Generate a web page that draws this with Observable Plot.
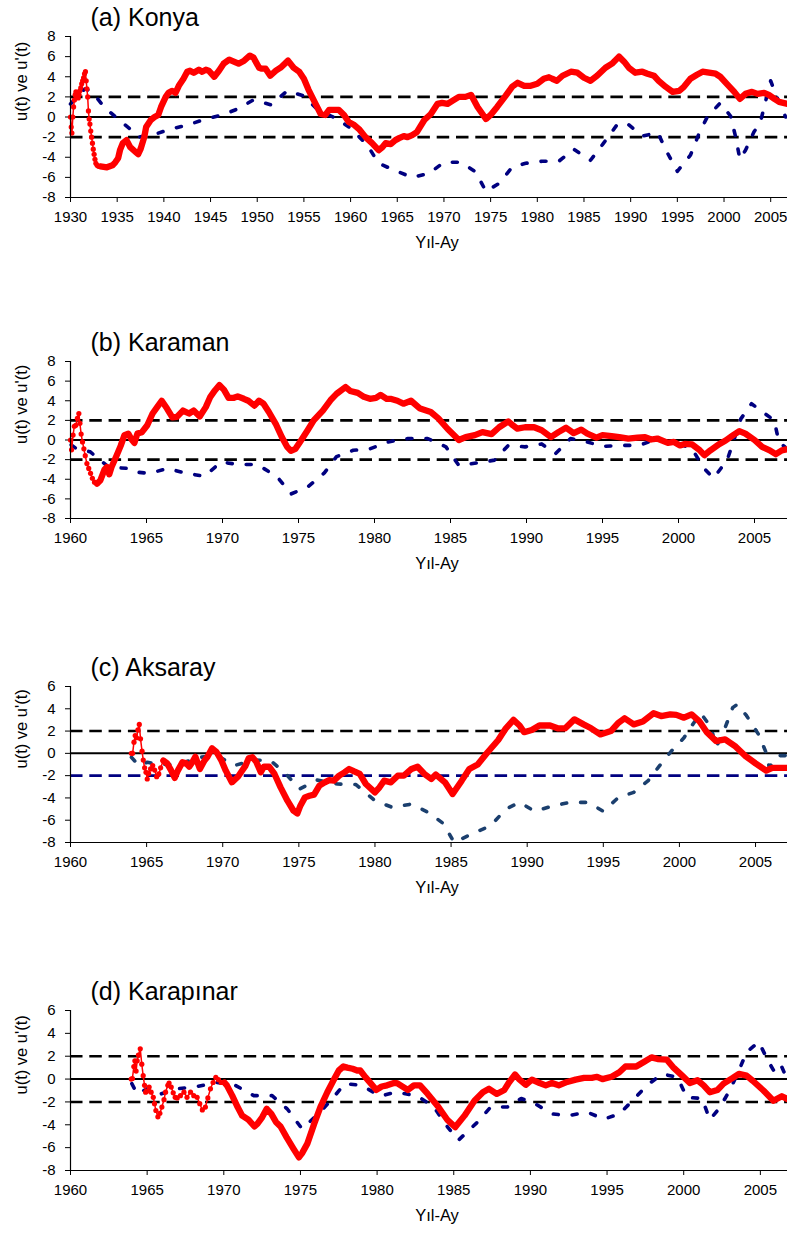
<!DOCTYPE html>
<html>
<head>
<meta charset="utf-8">
<script src="https://cdn.jsdelivr.net/npm/d3@7"></script>
<script src="https://cdn.jsdelivr.net/npm/@observablehq/plot@0.6"></script>
<style>
  html, body { margin: 0; padding: 0; background: #fff; }
  #root { position: relative; width: 787px; height: 1236px; overflow: hidden; }
  #root svg { position: absolute; left: 0; }
</style>
</head>
<body>
<div id="root"></div>
<script>
// ---------- data: [year, value] ----------
const konyaU = [[1930.0,0],[1930.08,-1.0],[1930.15,-1.6],[1930.25,0.0],[1930.33,1.0],[1930.42,1.7],[1930.5,2.2],[1930.58,2.5],[1930.67,2.0],[1930.75,2.4],[1930.83,1.9],[1930.92,2.2],[1931.0,2.6],[1931.1,2.9],[1931.2,3.3],[1931.3,3.6],[1931.4,3.9],[1931.5,4.3],[1931.6,4.5],[1931.68,3.6],[1931.76,2.8],[1931.84,2.0],[1931.92,0.6],[1932.0,-0.2],[1932.08,-0.7],[1932.17,-1.4],[1932.26,-2.0],[1932.35,-2.6],[1932.44,-3.2],[1932.53,-3.7],[1932.62,-4.2],[1932.72,-4.6],[1932.85,-4.8],[1933.0,-4.9],[1933.2,-4.9],
[1933.9,-5.0],[1934.5,-4.8],[1934.8,-4.5],[1935.1,-4.1],[1935.3,-3.3],[1935.6,-2.6],[1936.0,-2.3],[1936.4,-3.0],[1937.0,-3.5],[1937.25,-3.7],[1937.5,-3.2],[1937.9,-2.0],[1938.1,-1.0],[1938.6,-0.3],[1939.0,0.0],[1939.4,0.2],[1939.7,1.0],[1940.2,2.0],[1940.5,2.4],[1940.9,2.6],[1941.25,2.4],[1941.6,3.1],[1942.1,3.8],[1942.5,4.5],[1942.8,4.6],[1943.2,4.4],[1943.75,4.7],[1944.1,4.5],[1944.5,4.7],[1944.8,4.6],[1945.4,4.0],[1945.9,4.6],[1946.4,5.3],[1947.0,5.7],[1947.5,5.5],[1948.0,5.3],[1948.6,5.6],[1949.2,6.1],[1949.6,5.9],[1950.2,4.9],[1950.5,4.8],[1950.9,4.8],[1951.4,4.1],[1952.0,4.6],[1952.5,4.9],[1953.3,5.6],[1953.9,4.9],[1954.5,4.5],[1955.0,3.8],[1955.5,2.7],[1956.25,1.3],[1956.8,0.3],[1957.3,0.2],[1957.7,0.7],[1958.2,0.7],[1958.75,0.7],[1959.3,0.2],[1959.8,-0.5],[1960.4,-0.8],[1960.9,-1.2],[1961.6,-2.0],[1962.3,-2.6],[1963.0,-3.3],[1963.4,-3.0],[1963.75,-2.6],[1964.3,-2.7],[1964.8,-2.3],[1965.2,-2.1],[1965.7,-1.9],[1966.1,-2.0],[1966.6,-1.8],[1967.1,-1.5],[1967.9,-0.3],[1968.6,0.3],[1969.3,1.3],[1969.8,1.4],[1970.4,1.3],[1970.9,1.6],[1971.6,2.0],[1972.3,2.0],[1972.9,2.2],[1973.6,1.0],[1974.5,-0.2],[1975.0,0.2],[1975.7,1.0],[1976.6,2.1],[1977.3,3.0],[1977.9,3.4],[1978.6,3.1],[1979.3,3.1],[1980.0,3.3],[1980.7,3.8],[1981.25,3.95],[1981.6,3.8],[1982.1,3.6],[1982.7,4.1],[1983.6,4.5],[1984.3,4.4],[1985.0,3.9],[1985.7,3.6],[1986.4,4.1],[1987.3,4.9],[1988.0,5.3],[1988.75,6.0],[1989.3,5.5],[1989.8,4.9],[1990.5,4.4],[1991.25,4.5],[1991.8,4.3],[1992.5,4.1],[1993.0,3.6],[1993.75,3.0],[1994.5,2.5],[1995.2,2.6],[1995.7,3.0],[1996.4,3.8],[1997.1,4.2],[1997.7,4.5],[1998.4,4.4],[1999.1,4.3],[1999.6,4.0],[2000.3,3.3],[2001.1,2.5],[2001.7,1.8],[2002.3,2.3],[2003.0,2.5],[2003.6,2.3],[2004.3,2.4],[2004.8,2.2],[2005.4,1.8],[2005.9,1.5],[2006.8,1.3]];
const konyaUp = [[1930.0,1.3],[1930.5,1.8],[1931.0,2.4],[1931.6,2.8],[1932.3,2.5],[1933.6,1.0],[1935.2,-0.3],[1936.8,-1.5],[1937.3,-2.0],[1938.75,-1.7],[1939.1,-1.7],[1940.7,-1.2],[1942.5,-0.8],[1944.5,-0.2],[1946.25,0.2],[1947.9,0.8],[1949.6,1.7],[1951.5,1.2],[1953.2,2.6],[1955.0,2.1],[1956.6,0.6],[1958.4,-0.1],[1960.0,-1.1],[1961.8,-2.8],[1963.0,-4.6],[1964.7,-5.3],[1966.6,-6.0],[1968.4,-5.6],[1970.0,-4.5],[1971.8,-4.5],[1973.4,-5.45],[1974.5,-7.4],[1975.9,-6.6],[1977.3,-5.0],[1978.75,-4.6],[1980.5,-4.4],[1982.3,-4.4],[1983.9,-3.2],[1985.7,-4.3],[1987.1,-2.6],[1988.6,-0.7],[1989.7,-0.7],[1991.25,-1.9],[1992.9,-1.55],[1993.9,-3.5],[1995.0,-5.4],[1996.4,-3.8],[1997.3,-1.7],[1998.2,0.0],[1999.6,1.4],[2000.7,0.1],[2001.25,-2.0],[2001.7,-4.2],[2002.3,-3.3],[2003.2,-1.5],[2003.9,-0.5],[2005.0,3.6],[2005.6,2.1],[2006.6,0.0]];

const karamanU = [[1960.0,0.0],[1960.07,-1.0],[1960.17,0.5],[1960.25,1.4],[1960.35,1.5],[1960.45,2.2],[1960.55,2.7],[1960.62,1.7],[1960.7,0.6],[1960.79,-0.2],[1960.88,-0.9],[1960.97,-1.6],[1961.08,-2.4],[1961.2,-2.9],[1961.32,-3.4],[1961.44,-3.9],[1961.58,-4.3],[1961.75,-4.45],
[1961.97,-4.1],[1962.24,-3.0],[1962.4,-2.75],[1962.55,-3.5],[1962.7,-2.75],[1963.0,-1.7],[1963.3,-0.6],[1963.55,0.5],[1963.8,0.65],[1964.0,0.1],[1964.2,-0.3],[1964.4,0.65],[1964.7,0.8],[1965.05,1.5],[1965.4,2.7],[1965.7,3.35],[1966.0,4.0],[1966.35,3.2],[1966.7,2.3],[1967.0,2.35],[1967.4,3.0],[1967.8,2.7],[1968.1,3.0],[1968.5,2.4],[1968.9,3.35],[1969.2,4.4],[1969.5,5.05],[1969.8,5.6],[1970.1,5.1],[1970.4,4.3],[1970.75,4.3],[1971.0,4.45],[1971.4,4.2],[1971.7,4.0],[1972.1,3.5],[1972.4,4.0],[1972.7,3.7],[1973.05,2.85],[1973.5,1.65],[1973.9,0.3],[1974.25,-0.7],[1974.5,-1.1],[1974.8,-0.9],[1975.1,-0.2],[1975.6,1.0],[1976.0,2.0],[1976.6,3.0],[1977.1,4.05],[1977.5,4.7],[1978.1,5.4],[1978.4,5.0],[1978.9,4.8],[1979.3,4.4],[1979.7,4.2],[1980.1,4.3],[1980.4,4.6],[1980.8,4.2],[1981.05,4.2],[1981.5,4.0],[1981.9,3.7],[1982.4,4.0],[1983.0,3.2],[1983.7,2.85],[1984.2,2.2],[1984.8,1.15],[1985.55,0.0],[1986.0,0.3],[1986.6,0.5],[1987.1,0.8],[1987.7,0.6],[1988.2,1.3],[1988.8,1.9],[1989.1,1.5],[1989.4,1.15],[1989.9,1.3],[1990.5,1.3],[1991.0,1.0],[1991.6,0.3],[1992.1,0.8],[1992.6,1.25],[1993.1,0.7],[1993.6,1.05],[1994.0,0.65],[1994.6,0.25],[1995.0,0.5],[1995.6,0.4],[1996.1,0.3],[1996.7,0.15],[1997.3,0.25],[1997.8,0.3],[1998.2,0.05],[1998.6,0.15],[1999.3,-0.3],[1999.7,-0.2],[2000.1,-0.55],[2000.4,-0.4],[2000.9,-0.45],[2001.4,-1.05],[2001.7,-1.55],[2002.1,-1.05],[2002.7,-0.4],[2003.1,-0.05],[2003.6,0.5],[2004.0,0.9],[2004.4,0.65],[2005.0,0.0],[2005.5,-0.7],[2006.0,-1.05],[2006.4,-1.45],[2006.8,-1.05],[2007.1,-0.95]];
const karamanUp = [[1960.05,-0.5],[1960.4,-0.9],[1961.3,-1.2],[1961.6,-1.6],[1962.5,-2.75],[1963.8,-2.9],[1964.2,-3.25],[1965.2,-3.4],[1966.4,-2.9],[1967.5,-3.35],[1968.8,-3.7],[1969.9,-2.25],[1971.1,-2.5],[1972.3,-2.5],[1973.6,-3.75],[1974.5,-5.5],[1975.6,-4.8],[1976.7,-3.35],[1977.5,-1.7],[1978.6,-1.05],[1979.7,-0.9],[1980.9,-0.2],[1982.2,0.15],[1983.5,0.15],[1984.7,-0.7],[1985.55,-2.6],[1986.7,-2.35],[1987.9,-2.05],[1988.8,-0.55],[1989.9,-0.7],[1991.0,-0.4],[1991.9,-1.4],[1992.9,0.15],[1994.0,-0.2],[1995.0,-0.65],[1996.2,-0.55],[1997.4,-0.55],[1998.4,0.0],[2000.0,-0.35],[2000.9,-0.9],[2001.6,-2.75],[2002.3,-3.9],[2003.2,-2.05],[2003.7,0.25],[2004.1,2.15],[2004.8,3.7],[2005.4,3.0],[2006.3,2.0],[2006.6,-0.2],[2007.0,-0.7]];

const aksarayU = [[1964.0,0.0],[1964.08,0.0],[1964.17,1.0],[1964.25,1.6],[1964.34,1.4],[1964.43,2.1],[1964.52,2.6],[1964.6,1.3],[1964.7,0.2],[1964.78,-0.6],[1964.87,-1.3],[1964.96,-1.7],[1965.04,-2.3],[1965.13,-1.8],[1965.26,-1.4],[1965.4,-1.1],[1965.53,-1.5],[1965.66,-2.1],[1965.8,-1.85],[1965.92,-1.3],[1966.1,-0.65],
[1966.35,-0.9],[1966.6,-1.5],[1966.85,-2.2],[1967.05,-1.55],[1967.35,-0.8],[1967.6,-0.9],[1967.8,-1.2],[1968.0,-0.8],[1968.2,-0.3],[1968.5,-1.4],[1968.8,-0.65],[1969.0,-0.3],[1969.3,0.45],[1969.6,0.1],[1969.9,-0.6],[1970.2,-1.55],[1970.6,-2.6],[1971.0,-2.1],[1971.2,-1.7],[1971.5,-1.1],[1971.7,-0.45],[1971.95,-0.35],[1972.2,-0.75],[1972.5,-1.7],[1972.7,-1.2],[1973.05,-1.2],[1973.4,-1.85],[1973.8,-3.05],[1974.25,-4.25],[1974.65,-5.15],[1974.9,-5.4],[1975.1,-4.7],[1975.4,-3.95],[1975.7,-3.8],[1976.0,-3.7],[1976.35,-2.9],[1976.7,-2.6],[1977.0,-2.4],[1977.3,-2.45],[1977.65,-2.0],[1978.0,-1.7],[1978.3,-1.4],[1978.6,-1.6],[1979.0,-1.85],[1979.4,-2.75],[1980.0,-3.5],[1980.3,-3.05],[1980.6,-2.45],[1981.05,-2.6],[1981.5,-2.0],[1981.9,-2.0],[1982.4,-1.4],[1982.8,-1.2],[1983.25,-1.85],[1983.7,-2.3],[1984.0,-1.9],[1984.6,-2.6],[1985.1,-3.65],[1985.7,-2.45],[1986.2,-1.4],[1986.75,-1.0],[1987.4,0.1],[1988.1,1.2],[1988.6,2.25],[1989.1,3.0],[1989.5,2.5],[1989.8,1.9],[1990.3,2.1],[1990.8,2.5],[1991.5,2.5],[1992.0,2.25],[1992.5,2.25],[1993.1,3.05],[1993.7,2.6],[1994.2,2.25],[1994.8,1.7],[1995.5,2.0],[1996.0,2.75],[1996.4,3.15],[1997.0,2.6],[1997.6,2.85],[1998.3,3.6],[1998.8,3.35],[1999.4,3.5],[1999.8,3.45],[2000.3,3.2],[2000.8,3.5],[2001.3,2.9],[2001.8,1.9],[2002.4,1.1],[2003.0,1.25],[2003.7,0.6],[2004.3,-0.2],[2005.0,-0.9],[2005.7,-1.55],[2006.1,-1.3],[2007.1,-1.3]];
const aksarayUp = [[1964.0,-0.35],[1964.5,-1.1],[1965.05,-0.8],[1965.7,-1.0],[1967.0,-1.0],[1968.55,-0.35],[1969.65,-0.2],[1970.75,-1.1],[1972.05,-0.6],[1973.15,-0.65],[1974.15,-1.85],[1975.05,-3.2],[1976.2,-2.4],[1977.55,-2.75],[1978.75,-2.8],[1980.0,-4.25],[1981.15,-4.85],[1982.4,-4.55],[1983.5,-5.3],[1984.5,-6.3],[1985.2,-8.0],[1986.4,-7.2],[1987.6,-6.5],[1988.6,-5.0],[1989.5,-4.4],[1990.5,-5.2],[1991.6,-4.75],[1992.8,-4.4],[1994.0,-4.4],[1995.0,-5.2],[1996.0,-3.95],[1997.0,-3.5],[1997.95,-2.45],[1998.7,-1.1],[1999.5,0.25],[2000.3,1.4],[2000.8,2.45],[2001.4,3.6],[2002.1,2.3],[2002.4,0.5],[2003.0,2.3],[2003.5,4.1],[2003.8,4.4],[2004.4,3.4],[2005.2,1.7],[2005.7,0.05],[2005.9,-1.25],[2006.5,-0.2],[2007.0,-0.2]];

const karapinarU = [[1963.96,0.0],[1964.04,0.05],[1964.13,1.1],[1964.2,1.6],[1964.28,0.7],[1964.35,1.6],[1964.43,2.1],[1964.55,2.65],[1964.65,1.3],[1964.74,0.3],[1964.83,-0.55],[1964.9,-1.15],[1965.0,-1.05],[1965.13,-0.7],[1965.26,-1.15],[1965.4,-1.6],[1965.48,-2.15],[1965.57,-2.75],[1965.7,-3.3],[1965.83,-3.0],[1965.96,-2.45],[1966.1,-1.8],[1966.2,-1.15],[1966.35,-0.55],[1966.43,-0.35],[1966.57,-0.7],[1966.7,-1.2],[1966.83,-1.6],[1966.96,-1.65],[1967.17,-1.45],[1967.4,-1.15],[1967.6,-1.6],[1967.83,-1.15],[1968.04,-1.45],[1968.26,-1.6],[1968.43,-2.15],[1968.6,-2.7],[1968.8,-2.45],[1968.96,-1.65],[1969.13,-0.85],[1969.3,-0.3],[1969.48,0.15],[1969.65,-0.05],[1969.83,-0.3],[1970.04,-0.3],
[1970.2,-0.55],[1970.55,-1.45],[1970.9,-2.45],[1971.2,-3.2],[1971.6,-3.55],[1972.0,-4.15],[1972.2,-3.9],[1972.5,-3.35],[1972.8,-2.6],[1973.1,-3.05],[1973.4,-3.75],[1973.7,-4.15],[1974.1,-5.1],[1974.55,-6.1],[1974.9,-6.85],[1975.1,-6.5],[1975.45,-5.65],[1975.9,-3.9],[1976.3,-2.45],[1976.75,-1.15],[1977.2,0.0],[1977.5,0.75],[1977.8,1.1],[1978.05,1.0],[1978.4,0.9],[1978.7,0.75],[1978.9,0.75],[1979.25,0.15],[1979.6,-0.4],[1979.95,-0.95],[1980.3,-0.65],[1980.65,-0.55],[1981.1,-0.35],[1981.3,-0.35],[1982.0,-0.95],[1982.4,-0.55],[1982.8,-0.55],[1983.3,-1.3],[1984.0,-2.45],[1984.6,-3.6],[1985.1,-4.2],[1985.7,-3.2],[1986.35,-1.9],[1986.9,-1.15],[1987.3,-0.85],[1987.8,-1.3],[1988.3,-0.95],[1988.6,-0.3],[1989.0,0.4],[1989.25,0.0],[1989.7,-0.5],[1990.1,-0.05],[1990.6,-0.35],[1991.0,-0.55],[1991.4,-0.35],[1991.85,-0.55],[1992.4,-0.25],[1992.95,-0.05],[1993.5,0.1],[1994.0,0.1],[1994.35,0.2],[1994.7,0.0],[1995.3,0.2],[1995.8,0.6],[1996.2,1.1],[1996.9,1.1],[1997.4,1.5],[1997.9,1.9],[1998.3,1.75],[1998.9,1.7],[1999.3,1.05],[1999.9,0.3],[2000.4,-0.35],[2000.9,-0.1],[2001.3,-0.55],[2001.7,-1.15],[2002.2,-0.95],[2002.6,-0.4],[2003.2,0.1],[2003.6,0.45],[2004.1,0.3],[2004.5,-0.15],[2005.2,-1.0],[2005.85,-1.9],[2006.4,-1.5],[2006.77,-1.75]];
const karapinarUp = [[1964.0,-0.4],[1964.35,-1.3],[1965.0,-0.85],[1965.9,-1.3],[1966.96,-0.85],[1968.26,-0.65],[1969.56,-0.3],[1970.76,-0.55],[1971.96,-1.45],[1973.15,-1.45],[1974.13,-2.6],[1975.1,-4.35],[1976.2,-3.0],[1976.96,-1.9],[1977.9,-0.4],[1979.0,-0.55],[1980.2,-1.5],[1981.2,-1.15],[1982.6,-1.45],[1983.7,-2.45],[1984.6,-4.2],[1985.3,-5.35],[1986.6,-3.7],[1987.4,-2.45],[1988.5,-2.45],[1989.4,-1.7],[1990.3,-2.15],[1991.4,-3.05],[1992.5,-3.2],[1993.7,-2.9],[1994.8,-3.5],[1995.8,-3.05],[1996.65,-1.9],[1997.6,-0.55],[1998.6,0.45],[1999.6,0.15],[2000.2,-1.6],[2001.2,-1.7],[2001.7,-3.55],[2002.3,-2.6],[2003.0,-1.0],[2003.6,0.75],[2004.1,2.35],[2004.9,3.25],[2005.5,1.6],[2006.0,0.45],[2006.4,1.05],[2006.7,0.15]];

const titles = ["(a) Konya", "(b) Karaman", "(c) Aksaray", "(d) Karapınar"];
const yLabel = "u(t) ve u'(t)";
const xLabel = "Yıl-Ay";
const xTicksA = [1930,1935,1940,1945,1950,1955,1960,1965,1970,1975,1980,1985,1990,1995,2000,2005];
const xTicksB = [1960,1965,1970,1975,1980,1985,1990,1995,2000,2005];
const yTicks8 = [-8,-6,-4,-2,0,2,4,6,8];
const yTicks6 = [-8,-6,-4,-2,0,2,4,6];
const bounds = [2, -2];

// ---------- layout ----------
const panels = [
  {title: titles[0], top: 0,   plotH: 161, xd: [1930, 2006.8],  yd: [-8, 8], xt: xTicksA, yt: yTicks8, u: konyaU,     up: konyaUp,     dotsUntil: 1933.2,  blue: "#000080", lowColor: "#000"},
  {title: titles[1], top: 325, plotH: 157, xd: [1960, 2007.17], yd: [-8, 8], xt: xTicksB, yt: yTicks8, u: karamanU,   up: karamanUp,   dotsUntil: 1961.75, blue: "#000080", lowColor: "#000"},
  {title: titles[2], top: 650, plotH: 156, xd: [1960, 2007.1],  yd: [-8, 6], xt: xTicksB, yt: yTicks6, u: aksarayU,   up: aksarayUp,   dotsUntil: 1966.1,  blue: "#1b3f6e", lowColor: "#000080"},
  {title: titles[3], top: 974, plotH: 160, xd: [1960, 2006.77], yd: [-8, 6], xt: xTicksB, yt: yTicks6, u: karapinarU, up: karapinarUp, dotsUntil: 1970.04, blue: "#000080", lowColor: "#000"}
];

const font = "'Liberation Sans', Arial, Helvetica, sans-serif";
const X = d => d[0], Y = d => d[1];
const root = document.getElementById("root");

for (const p of panels) {
  const early = p.u.filter(d => d[0] <= p.dotsUntil);
  const main = p.u.filter(d => d[0] >= p.dotsUntil);
  const mt = 36, mb = 60;
  const chart = Plot.plot({
    width: 787, height: mt + p.plotH + mb,
    marginLeft: 70, marginRight: 0, marginTop: mt, marginBottom: mb,
    style: {fontFamily: font, background: "transparent", color: "#000"},
    x: {domain: p.xd},
    y: {domain: p.yd},
    marks: [
      Plot.axisY({ticks: p.yt, tickSize: 5, tickPadding: 10, fontSize: 15, label: null, tickFormat: d => String(d), stroke: "#000"}),
      Plot.axisX({ticks: p.xt, tickSize: 5, tickPadding: 9, fontSize: 15, label: null, tickFormat: d => String(d), stroke: "#000"}),
      Plot.ruleY([0], {stroke: "#000", strokeWidth: 2}),
      Plot.ruleY([bounds[0]], {stroke: "#000", strokeWidth: 2.6, strokeDasharray: "12.5,6.8"}),
      Plot.ruleY([bounds[1]], {stroke: p.lowColor, strokeWidth: 2.6, strokeDasharray: "12.5,6.8"}),
      Plot.line(p.up, {x: X, y: Y, stroke: p.blue, strokeWidth: 3.6, strokeDasharray: "5,14", curve: "linear"}),
      Plot.line(early, {x: X, y: Y, stroke: "#ff0000", strokeWidth: 1.5}),
      Plot.dot(early, {x: X, y: Y, r: 2.6, fill: "#ff0000", stroke: "none"}),
      Plot.line(main, {x: X, y: Y, stroke: "#ff0000", strokeWidth: 6.3, strokeLinejoin: "round", strokeLinecap: "round"}),
      Plot.ruleX([p.xd[0]], {stroke: "#000", strokeWidth: 1.2}),
      Plot.ruleY([p.yd[0]], {stroke: "#000", strokeWidth: 1.2}),
      Plot.text([p.title], {text: d => d, frameAnchor: "top-left", dx: 20, dy: -11, textAnchor: "start", lineAnchor: "bottom", fontSize: 25, fill: "#000"}),
      Plot.text([yLabel], {text: d => d, frameAnchor: "left", dx: -49, dy: 4, rotate: -90, fontSize: 16.5, fill: "#000"}),
      Plot.text([xLabel], {text: d => d, frameAnchor: "bottom", dx: 8, dy: 50, fontSize: 16.5, fill: "#000"})
    ]
  });
  chart.style.top = p.top + "px";
  root.appendChild(chart);
}
</script>
</body>
</html>
